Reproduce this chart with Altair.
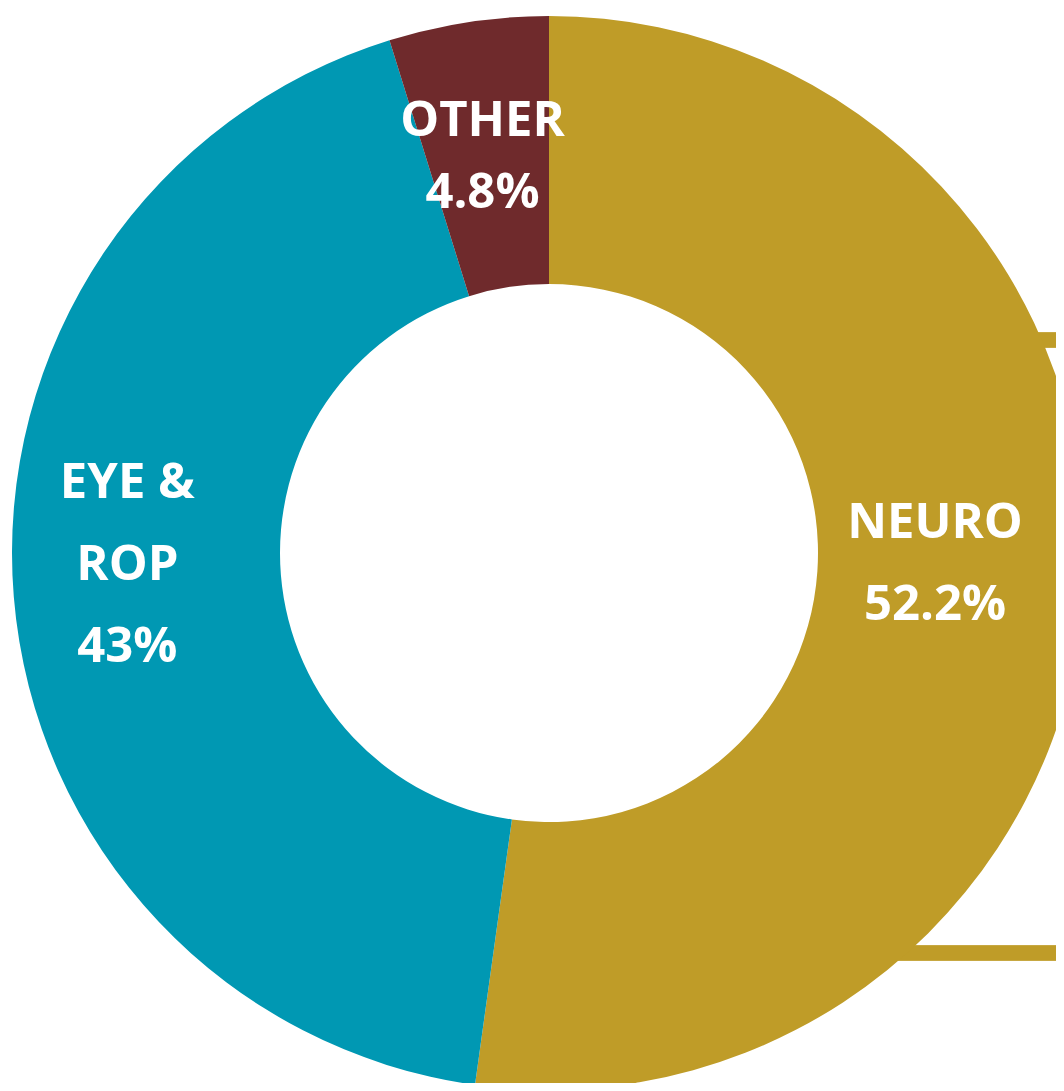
import altair as alt
import pandas as pd

# Data
categories = ["NEURO", "EYE & ROP", "OTHER"]
label_names = ["NEURO", "EYE &\nROP", "OTHER"]
shares = [52.2, 43.0, 4.8]
colors = ["#BF9C28", "#0098B3", "#6F2A2C"]

df = pd.DataFrame({
    "cat": categories,
    "value": shares,
    "idx": list(range(len(categories))),
    "label": [f"{n}\n{v:g}%" for n, v in zip(label_names, shares)],
})

CX, CY = 541, 545
R_OUT, R_IN, R_LABEL = 537, 269, 403

base = alt.Chart(df).encode(
    theta=alt.Theta("value:Q", stack=True),
    order=alt.Order("idx:Q"),
)

arcs = base.mark_arc(outerRadius=R_OUT, innerRadius=R_IN).encode(
    x=alt.value(CX),
    y=alt.value(CY),
    color=alt.Color("cat:N", scale=alt.Scale(domain=categories, range=colors), legend=None),
)

# label styling per slice: (line height, dx nudge, dy nudge)
label_style = {
    "NEURO": (82, -16, -17),
    "EYE & ROP": (82, -20, -21),
    "OTHER": (72, -6, 2),
}

label_layers = []
for cat, name in zip(categories, label_names):
    lh, ndx, ndy = label_style[cat]
    n_lines = name.count("\n") + 2
    label_layers.append(
        base.mark_text(
            font="Open Sans", fontWeight="bold", fontSize=49, color="white",
            lineBreak="\n", lineHeight=lh, align="center", baseline="middle",
            dx=ndx, dy=-(n_lines - 1) * lh / 2 + ndy,
        ).encode(
            x=alt.value(CX),
            y=alt.value(CY),
            radius=alt.value(R_LABEL),
            text="label:N",
            opacity=alt.condition(alt.datum.cat == cat, alt.value(1), alt.value(0)),
        )
    )

# decorative bracket strips behind the donut (right side)
strip_top = alt.Chart(df).mark_rule(color=colors[0], strokeWidth=15).encode(
    x=alt.value(950), x2=alt.value(1060), y=alt.value(332)
)
strip_bottom = alt.Chart(df).mark_rule(color=colors[0], strokeWidth=15).encode(
    x=alt.value(850), x2=alt.value(1060), y=alt.value(945)
)

chart = alt.layer(strip_top, strip_bottom, arcs, *label_layers).properties(
    width=1048, height=1075, padding=0, autosize=alt.AutoSizeParams(type="none"),
).configure_view(stroke=None)

chart.save("out.html", embed_options={"renderer": "svg", "actions": False})
